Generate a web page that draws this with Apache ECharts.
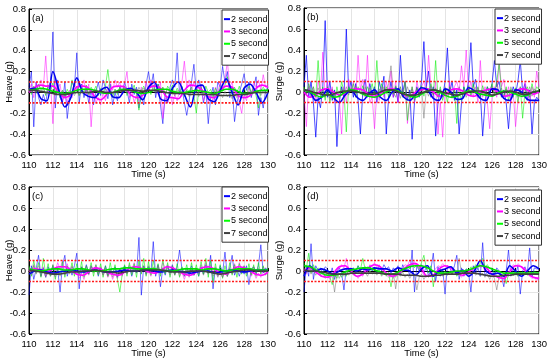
<!DOCTYPE html>
<html><head><meta charset="utf-8">
<script src="https://cdn.jsdelivr.net/npm/echarts@6/dist/echarts.min.js"></script>
<style>html,body{margin:0;padding:0;background:#fff}#c{width:550px;height:361px}</style>
</head><body><div id="c"></div>
<script>
// ---- time grids (s) ----
const xMin = 110, xMax = 130;
const tRaw = []; for (let i = 0; i <= 100; i++) tRaw.push(+(110 + i * 0.2).toFixed(1));
const tSm = []; for (let i = 0; i <= 40; i++) tSm.push(+(110 + i * 0.5).toFixed(1));

const seriesNames = ['2 second', '3 second', '5 second', '7 second'];
const yTicks = [-0.6, -0.4, -0.2, 0, 0.2, 0.4, 0.6, 0.8];
const thresholds = [0.1, -0.1];
const panelLabels = ['(a)', '(b)', '(c)', '(d)'];
const yNames = ['Heave (g)', 'Surge (g)', 'Heave (g)', 'Surge (g)'];

// ===== Panel (a) Heave =====
const aBlueRaw = [
 0.05, 0.2, -0.33, 0.1, -0.05, -0.12, -0.02, -0.1, 0.05, 0.1,
 0.58, -0.15, 0.12, -0.05, -0.1, 0.1, -0.25, -0.05, 0.1, 0.05,
 0.38, -0.1, 0.08, -0.05, 0.04, -0.1, 0.02, -0.12, 0.0, 0.1,
 -0.03, 0.12, 0.04, -0.06, 0.08, -0.12, 0.0, -0.08, 0.06, 0.0,
 0.1, 0.02, -0.1, 0.08, -0.02, 0.05, -0.15, -0.02, -0.12, 0.08,
 0.2, 0.05, 0.18, -0.05, 0.08, -0.12, -0.3, 0.0, -0.1, 0.05,
 0.12, 0.05, 0.38, -0.02, 0.05, -0.1, -0.22, -0.08, 0.1, 0.27,
 0.0, 0.12, 0.05, -0.1, 0.02, -0.3, -0.05, 0.05, -0.12, 0.1,
 0.05, 0.25, 0.1, 0.2, -0.05, 0.05, -0.28, -0.1, 0.0, 0.08,
 0.18, 0.02, 0.1, -0.05, 0.05, 0.15, -0.22, -0.05, -0.15, 0.02,
 0.05];
const aBlueSm = [
 0.03, 0.04, -0.06, -0.08, 0.2, 0.02, -0.14, -0.05, 0.14, 0.0,
 -0.04, -0.05, 0.02, 0.05, -0.04, -0.05, 0.02, 0.04, 0.0, -0.07,
 0.05, 0.1, -0.06, -0.08, 0.04, 0.1, -0.02, -0.14, 0.05, 0.07,
 -0.06, -0.09, 0.02, 0.13, 0.0, -0.12, 0.04, 0.08, 0.0, -0.1,
 0.0];
const aMagRaw = [
 0.02, 0.08, -0.05, 0.1, 0.02, 0.12, 0.04, 0.35, 0.0, 0.1,
 -0.3, 0.12, 0.02, 0.08, -0.08, -0.02, -0.1, 0.02, -0.05, 0.1,
 0.02, 0.1, 0.05, 0.12, -0.02, 0.08, -0.33, 0.0, -0.1, -0.05,
 -0.12, 0.0, -0.08, 0.05, 0.1, 0.02, 0.12, 0.05, 0.1, -0.02,
 0.08, 0.2, -0.05, 0.02, -0.1, -0.02, -0.08, 0.05, -0.02, 0.1,
 0.02, 0.12, 0.05, 0.08, -0.02, 0.1, -0.25, -0.05, -0.1, 0.0,
 -0.12, -0.02, -0.08, 0.02, 0.1, 0.3, 0.05, 0.12, 0.02, 0.1,
 0.05, -0.02, 0.08, -0.08, 0.0, -0.1, -0.02, -0.08, 0.05, 0.0,
 0.1, 0.02, 0.12, 0.3, 0.05, 0.1, -0.05, 0.02, -0.1, -0.2,
 -0.02, -0.08, 0.05, -0.02, 0.1, 0.05, 0.12, 0.02, 0.17, 0.05,
 0.08];
const aMagSm = [
 0.0, 0.05, 0.07, 0.06, 0.06, 0.0, -0.05, -0.02, 0.05, 0.06,
 0.04, -0.04, -0.07, -0.02, 0.05, 0.06, 0.05, -0.02, -0.05, -0.03,
 0.04, 0.06, 0.04, -0.04, -0.05, -0.06, 0.02, 0.07, 0.06, 0.02,
 -0.04, -0.05, 0.02, 0.06, 0.05, -0.03, -0.05, -0.03, 0.04, 0.07,
 0.05];
const aGrnRaw = [
 0.04, -0.02, 0.06, 0.0, 0.08, 0.02, 0.05, -0.03, 0.07, 0.01,
 0.09, 0.0, 0.05, -0.05, 0.02, -0.04, 0.03, -0.02, 0.12, 0.02,
 0.06, -0.03, 0.04, 0.0, 0.07, -0.02, 0.05, 0.01, 0.06, -0.03,
 0.04, 0.0, 0.06, 0.22, 0.02, -0.05, 0.03, -0.02, 0.05, 0.0,
 0.06, -0.03, 0.04, 0.01, 0.07, -0.02, -0.17, 0.02, 0.06, 0.0,
 0.05, -0.02, 0.07, 0.01, 0.08, 0.0, 0.05, -0.03, 0.06, 0.02,
 0.07, -0.01, 0.04, 0.0, 0.06, -0.04, 0.03, 0.01, 0.05, -0.03,
 -0.2, 0.02, 0.05, -0.02, 0.06, 0.0, 0.03, -0.05, 0.04, -0.02,
 0.05, 0.01, 0.07, 0.15, 0.04, -0.03, 0.05, 0.0, 0.06, -0.04,
 0.04, -0.02, 0.06, 0.0, 0.05, -0.03, -0.15, 0.02, 0.05, 0.01,
 0.03];
const aGrnSm = [
 0.02, 0.03, 0.04, 0.03, 0.01, 0.0, -0.01, 0.0, 0.02, 0.03,
 0.03, 0.02, 0.0, -0.01, 0.0, 0.02, 0.03, 0.02, 0.0, -0.01,
 0.0, 0.02, 0.03, 0.03, 0.01, 0.0, 0.0, 0.01, 0.02, 0.01,
 0.0, -0.01, 0.01, 0.03, 0.03, 0.01, -0.01, -0.01, 0.01, 0.02,
 0.02];
const aGryRaw = [
 0.04, 0.0, 0.05, -0.01, 0.03, 0.0, 0.04, -0.02, 0.02, 0.0,
 0.03, -0.03, 0.01, -0.02, 0.02, -0.05, 0.0, -0.04, 0.01, -0.03,
 0.02, -0.03, 0.01, -0.01, 0.03, -0.02, 0.02, 0.0, 0.03, -0.01,
 0.03, -0.01, 0.04, 0.0, 0.02, -0.02, 0.03, -0.01, 0.04, 0.0,
 0.05, -0.01, 0.03, 0.0, 0.04, -0.01, 0.05, 0.0, 0.04, 0.01,
 0.05, 0.0, 0.04, -0.01, 0.03, 0.0, 0.05, -0.02, 0.03, 0.0,
 0.02, -0.03, 0.02, -0.01, 0.01, -0.03, 0.02, -0.04, 0.0, -0.02,
 0.01, -0.04, 0.0, -0.03, 0.01, -0.05, 0.0, -0.03, 0.01, -0.04,
 0.0, -0.05, 0.01, -0.04, -0.01, -0.06, 0.0, -0.05, -0.01, -0.04,
 0.0, -0.04, 0.01, -0.03, 0.02, -0.02, 0.01, -0.03, 0.02, -0.01,
 0.01];
const aGrySm = [
 0.02, 0.02, 0.01, 0.0, -0.01, -0.02, -0.02, -0.01, 0.0, 0.0,
 0.0, 0.01, 0.01, 0.0, 0.0, 0.01, 0.02, 0.02, 0.02, 0.01,
 0.02, 0.02, 0.01, 0.0, -0.01, -0.01, -0.01, -0.02, -0.02, -0.02,
 -0.02, -0.02, -0.03, -0.03, -0.03, -0.02, -0.02, -0.01, 0.0, 0.0,
 0.0];

// ===== Panel (b) Surge =====
const bBlueRaw = [
 0.05, 0.35, -0.05, 0.1, -0.1, -0.43, -0.05, -0.15, 0.05, 0.68,
 -0.05, 0.1, -0.08, 0.02, -0.52, -0.1, 0.05, -0.05, 0.6, 0.0,
 0.1, -0.05, 0.08, -0.08, -0.4, 0.0, 0.12, -0.05, 0.08, -0.02,
 0.05, -0.1, 0.1, 0.0, 0.15, -0.4, -0.05, 0.1, -0.05, 0.05,
 -0.1, 0.35, 0.0, 0.1, -0.08, 0.02, -0.45, -0.1, 0.05, -0.05,
 0.1, 0.48, 0.05, 0.2, -0.05, 0.05, -0.42, -0.1, 0.02, -0.05,
 0.1, 0.42, 0.0, 0.1, -0.08, 0.02, -0.4, -0.1, 0.05, -0.02,
 0.1, 0.47, 0.05, 0.12, -0.05, 0.0, -0.42, -0.1, 0.05, -0.02,
 0.08, 0.3, 0.05, 0.1, -0.05, 0.02, -0.1, -0.35, -0.05, 0.05,
 -0.02, 0.1, 0.3, 0.0, 0.08, -0.08, 0.02, -0.4, -0.1, -0.05,
 -0.08];
const bBlueSm = [
 0.02, 0.0, -0.08, -0.05, 0.02, -0.05, -0.1, -0.03, 0.02, -0.05,
 -0.08, -0.02, 0.02, -0.05, -0.08, 0.0, 0.03, -0.05, -0.08, -0.02,
 0.04, 0.02, -0.06, -0.08, 0.03, 0.0, -0.07, -0.06, 0.04, 0.01,
 -0.06, -0.08, 0.03, 0.02, -0.06, -0.08, 0.02, 0.0, -0.07, -0.08,
 -0.08];
const bMagRaw = [
 0.0, -0.33, 0.08, -0.05, 0.05, -0.1, 0.1, 0.0, 0.38, -0.05,
 0.1, -0.08, 0.05, -0.1, 0.0, -0.05, -0.4, 0.05, -0.1, 0.12,
 0.0, 0.1, -0.05, 0.35, 0.02, 0.12, -0.05, 0.35, -0.1, -0.05,
 -0.35, 0.0, -0.08, 0.05, -0.05, 0.1, 0.0, 0.2, -0.05, 0.1,
 -0.1, 0.05, -0.05, 0.1, -0.3, -0.08, 0.05, -0.1, 0.1, 0.0,
 0.05, 0.1, 0.0, 0.35, 0.05, -0.05, 0.1, -0.4, -0.1, -0.43,
 0.0, -0.05, 0.1, -0.05, 0.05, 0.1, 0.0, 0.25, 0.05, 0.4,
 0.0, 0.1, -0.05, 0.05, -0.1, 0.3, -0.05, 0.05, -0.1, -0.35,
 -0.05, 0.05, -0.05, 0.3, 0.05, 0.12, -0.05, 0.05, -0.1, 0.0,
 -0.33, -0.1, 0.05, -0.05, 0.1, 0.0, -0.1, 0.05, -0.05, 0.2,
 0.05];
const bMagSm = [
 0.0, -0.05, -0.03, 0.02, 0.03, 0.0, -0.03, -0.02, 0.02, 0.03,
 0.02, -0.02, -0.04, -0.01, 0.02, 0.03, 0.01, -0.03, -0.04, 0.0,
 0.02, 0.03, 0.0, -0.04, -0.03, 0.02, 0.03, 0.01, -0.03, -0.04,
 0.0, 0.02, 0.03, 0.0, -0.04, -0.03, 0.01, 0.03, 0.02, -0.02,
 0.0];
const bGrnRaw = [
 0.05, -0.03, 0.08, 0.0, 0.05, -0.05, 0.3, -0.05, 0.05, -0.08,
 0.05, -0.1, 0.02, -0.08, 0.05, -0.05, 0.1, 0.0, -0.38, 0.05,
 0.0, 0.08, -0.05, 0.05, -0.02, 0.06, -0.04, 0.05, 0.0, 0.08,
 -0.03, 0.3, -0.05, 0.08, -0.02, 0.05, -0.05, 0.04, -0.02, 0.06,
 0.0, 0.05, -0.05, 0.1, -0.27, -0.05, 0.05, -0.08, 0.04, -0.02,
 0.06, -0.04, 0.05, 0.0, 0.08, -0.03, 0.3, -0.05, 0.05, -0.08,
 0.02, -0.1, 0.05, -0.05, 0.03, -0.3, 0.0, -0.08, 0.05, -0.02,
 0.06, -0.03, 0.08, 0.0, 0.05, -0.04, 0.06, -0.02, 0.05, 0.0,
 0.08, -0.03, 0.1, 0.27, 0.02, -0.05, 0.05, -0.08, 0.03, -0.05,
 0.04, -0.1, 0.05, -0.25, 0.0, 0.05, -0.05, 0.08, -0.02, 0.05,
 0.02];
const bGrnSm = [
 0.02, 0.0, -0.03, -0.05, -0.02, -0.05, -0.04, 0.0, 0.02, 0.01,
 -0.02, -0.04, -0.05, -0.03, 0.0, 0.02, 0.01, -0.02, -0.04, -0.05,
 -0.02, 0.01, 0.02, 0.0, -0.03, -0.05, -0.04, -0.01, 0.01, 0.0,
 -0.02, -0.03, -0.04, -0.01, 0.01, 0.0, -0.02, -0.04, -0.03, 0.0,
 0.01];
const bGryRaw = [
 0.03, -0.02, 0.05, -0.05, 0.02, -0.04, 0.04, -0.03, 0.02, -0.05,
 0.0, -0.06, 0.03, -0.04, 0.01, -0.05, 0.03, -0.02, 0.05, -0.03,
 0.04, -0.02, 0.06, -0.01, 0.03, -0.04, 0.05, -0.02, 0.04, -0.05,
 0.02, -0.06, 0.03, -0.03, 0.05, -0.02, 0.08, 0.25, 0.0, -0.05,
 0.03, -0.06, 0.02, -0.04, 0.05, -0.02, 0.03, -0.05, 0.04, -0.02,
 0.05, -0.25, 0.02, -0.04, 0.06, -0.02, 0.04, -0.05, 0.03, -0.03,
 0.05, -0.02, 0.04, -0.06, 0.02, -0.03, 0.05, -0.02, 0.03, -0.05,
 0.02, -0.04, 0.05, -0.02, 0.04, -0.06, 0.02, -0.03, 0.04, -0.02,
 0.06, -0.03, 0.1, -0.02, 0.04, -0.05, 0.03, -0.04, 0.05, -0.02,
 0.03, -0.05, 0.02, -0.03, 0.04, -0.02, 0.05, -0.04, 0.03, -0.01,
 0.02];
const bGrySm = [
 0.02, 0.01, -0.01, -0.02, -0.03, -0.02, 0.0, 0.01, 0.01, 0.0,
 -0.01, -0.02, -0.02, 0.0, 0.02, 0.02, 0.0, -0.02, -0.03, -0.03,
 -0.01, 0.01, 0.02, 0.01, -0.01, -0.02, -0.03, -0.02, 0.0, 0.01,
 0.01, -0.01, -0.03, -0.02, 0.0, 0.01, 0.0, -0.02, -0.02, 0.0,
 0.01];

// ===== Panel (c) Heave =====
const cBlueRaw = [
 -0.23, 0.05, -0.08, 0.02, 0.15, -0.05, 0.03, -0.06, 0.04, -0.03,
 0.05, -0.04, 0.02, -0.2, 0.05, 0.15, -0.05, 0.03, -0.04, 0.05,
 0.17, -0.17, 0.04, -0.02, 0.06, -0.03, 0.05, 0.0, 0.04, -0.05,
 0.03, -0.02, 0.05, -0.04, 0.02, -0.03, 0.04, -0.06, 0.02, -0.03,
 0.05, -0.02, 0.04, -0.05, 0.03, -0.02, 0.32, -0.23, 0.05, -0.03,
 0.04, -0.02, 0.28, -0.05, 0.06, -0.15, 0.03, -0.04, 0.05, -0.02,
 0.06, -0.03, 0.04, 0.2, 0.02, -0.05, 0.03, -0.02, 0.05, -0.04,
 0.02, -0.05, 0.04, -0.03, 0.06, -0.02, 0.15, -0.17, 0.03, -0.04,
 0.05, -0.02, 0.18, -0.05, 0.03, 0.15, -0.04, 0.02, -0.05, 0.03,
 -0.03, 0.05, -0.13, 0.02, 0.04, -0.03, 0.05, 0.25, -0.02, 0.03,
 0.0];
const cBlueSm = [
 -0.03, 0.0, 0.01, -0.01, -0.02, -0.01, 0.0, 0.01, 0.0, -0.01,
 0.0, 0.01, 0.0, -0.01, -0.01, 0.0, 0.01, 0.0, 0.0, 0.01,
 0.01, 0.0, -0.01, 0.0, 0.01, 0.0, -0.01, -0.02, -0.01, 0.0,
 0.0, -0.02, -0.01, 0.0, 0.01, 0.0, -0.01, 0.0, 0.01, 0.01,
 0.01];
const cMagRaw = [
 0.03, -0.04, 0.06, -0.02, 0.05, 0.0, 0.04, -0.05, 0.02, -0.04,
 0.06, 0.0, 0.08, 0.02, 0.1, 0.0, 0.07, -0.01, 0.05, -0.03,
 0.0, -0.07, -0.02, -0.08, 0.01, -0.04, 0.05, 0.0, 0.06, -0.02,
 0.04, -0.04, 0.01, -0.06, -0.01, -0.08, -0.02, -0.07, 0.0, -0.05,
 0.02, 0.0, 0.06, 0.01, 0.08, 0.0, 0.06, -0.02, 0.04, -0.04,
 0.01, -0.05, 0.02, -0.03, 0.05, 0.0, 0.08, 0.01, 0.06, -0.01,
 0.05, -0.03, 0.02, -0.05, -0.01, -0.08, -0.02, -0.06, 0.01, -0.04,
 0.02, -0.02, 0.06, 0.0, 0.08, 0.01, 0.06, -0.01, 0.04, -0.05,
 -0.01, -0.06, 0.0, -0.05, 0.03, -0.02, 0.07, 0.0, 0.08, 0.01,
 0.05, -0.03, 0.02, -0.05, -0.01, -0.07, -0.02, -0.06, 0.0, -0.03,
 0.02];
const cMagSm = [
 0.0, 0.02, 0.01, -0.01, 0.02, 0.04, 0.04, 0.01, -0.03, -0.04,
 -0.01, 0.03, 0.02, -0.01, -0.03, -0.04, -0.01, 0.03, 0.04, 0.02,
 -0.01, -0.02, 0.0, 0.04, 0.03, 0.0, -0.03, -0.04, -0.01, 0.03,
 0.04, 0.02, -0.02, -0.03, 0.01, 0.04, 0.03, 0.0, -0.03, -0.04,
 -0.01];
const cGrnRaw = [
 0.05, -0.05, 0.1, -0.02, 0.08, -0.06, 0.12, -0.03, 0.07, -0.05,
 0.06, -0.08, 0.04, -0.03, 0.09, -0.06, 0.05, -0.02, 0.08, -0.05,
 0.07, -0.04, 0.09, -0.06, 0.05, -0.03, 0.08, -0.05, 0.06, -0.04,
 0.07, -0.06, 0.05, -0.05, 0.08, -0.04, 0.06, -0.08, -0.2, -0.03,
 0.06, -0.05, 0.08, -0.04, 0.07, -0.06, 0.1, -0.03, 0.12, -0.05,
 0.09, -0.04, 0.1, -0.02, 0.07, -0.05, 0.11, -0.03, 0.08, -0.06,
 0.05, -0.04, 0.07, -0.06, 0.04, -0.03, 0.06, -0.05, 0.08, -0.04,
 0.06, -0.05, 0.09, -0.03, 0.12, -0.06, 0.1, -0.11, 0.07, -0.04,
 0.06, -0.07, 0.05, -0.05, 0.08, -0.04, 0.06, -0.06, 0.07, -0.03,
 0.05, -0.05, 0.07, -0.04, 0.06, -0.05, 0.08, -0.03, 0.05, -0.04,
 0.03];
const cGrnSm = [
 0.02, 0.01, 0.0, 0.01, 0.02, 0.02, 0.01, 0.01, 0.02, 0.02,
 0.01, 0.0, 0.0, 0.01, 0.02, 0.02, 0.03, 0.03, 0.02, 0.02,
 0.02, 0.02, 0.01, 0.0, 0.0, 0.01, 0.02, 0.02, 0.02, 0.01,
 0.02, 0.02, 0.01, 0.0, 0.01, 0.02, 0.02, 0.02, 0.01, 0.01,
 0.01];
const cGryRaw = [
 0.04, -0.02, 0.05, -0.03, 0.02, -0.05, 0.01, -0.06, 0.0, -0.05,
 -0.01, -0.06, 0.01, -0.05, 0.02, -0.04, 0.03, -0.03, 0.04, -0.02,
 0.03, -0.03, 0.04, -0.02, 0.05, -0.01, 0.04, -0.02, 0.03, -0.03,
 0.02, -0.04, 0.03, -0.05, 0.01, -0.06, 0.0, -0.05, 0.01, -0.04,
 0.02, -0.03, 0.04, -0.02, 0.05, -0.02, 0.04, -0.01, 0.05, -0.02,
 0.05, -0.01, 0.04, -0.02, 0.05, -0.03, 0.03, -0.02, 0.03, -0.04,
 0.02, -0.04, 0.02, -0.03, 0.03, -0.05, 0.01, -0.04, 0.02, -0.03,
 0.03, -0.03, 0.02, -0.04, 0.03, -0.03, 0.02, -0.05, 0.0, -0.06,
 -0.01, -0.06, 0.0, -0.05, 0.02, -0.03, 0.04, -0.02, 0.03, -0.02,
 0.04, -0.02, 0.03, -0.03, 0.04, -0.01, 0.03, -0.02, 0.04, -0.01,
 0.02];
const cGrySm = [
 0.01, 0.0, -0.01, -0.02, -0.03, -0.03, -0.02, -0.01, -0.01, 0.0,
 0.0, 0.01, 0.0, -0.01, -0.01, -0.02, -0.01, 0.0, 0.0, 0.01,
 0.01, 0.01, 0.01, 0.0, -0.01, -0.01, -0.01, 0.0, 0.0, 0.0,
 -0.01, -0.02, -0.03, -0.02, -0.01, 0.0, 0.01, 0.01, 0.0, 0.0,
 0.0];

// ===== Panel (d) Surge =====
const dBlueRaw = [
 -0.2, 0.05, -0.05, 0.26, -0.08, 0.05, 0.0, 0.03, -0.02, 0.04,
 0.02, -0.05, 0.03, -0.08, 0.0, 0.03, -0.02, -0.18, 0.03, 0.02,
 0.0, 0.03, -0.02, 0.05, 0.0, -0.02, 0.04, 0.02, 0.05, 0.0,
 0.03, -0.02, 0.05, 0.0, 0.06, 0.02, 0.04, -0.02, 0.03, 0.0,
 0.05, -0.03, 0.06, 0.0, 0.04, -0.05, 0.2, -0.2, 0.05, 0.0,
 0.06, -0.02, 0.04, -0.05, 0.02, 0.17, -0.1, 0.04, -0.05, 0.02,
 -0.22, 0.05, 0.03, -0.02, 0.05, 0.15, -0.08, 0.03, -0.05, 0.02,
 0.0, -0.2, 0.05, -0.02, 0.03, -0.05, 0.27, -0.05, 0.0, -0.03,
 0.02, -0.05, 0.03, 0.0, -0.05, -0.15, 0.0, 0.2, -0.05, 0.02,
 -0.03, 0.05, -0.22, 0.0, 0.04, -0.02, 0.22, -0.05, 0.03, 0.02,
 0.02];
const dBlueSm = [
 -0.05, 0.05, 0.0, 0.02, 0.0, -0.03, 0.0, 0.02, 0.02, 0.0,
 0.02, 0.01, 0.03, 0.02, 0.02, 0.0, 0.03, 0.01, 0.0, -0.04,
 0.02, 0.05, -0.05, 0.0, 0.02, 0.04, -0.02, 0.01, -0.05, 0.0,
 0.1, 0.0, -0.03, -0.02, -0.05, 0.05, 0.0, -0.05, 0.0, 0.05,
 0.02];
const dMagRaw = [
 0.02, -0.03, 0.05, 0.0, 0.04, -0.02, 0.0, -0.05, -0.03, -0.07,
 -0.05, -0.08, -0.04, -0.06, 0.0, 0.02, 0.06, 0.03, 0.12, 0.02,
 0.03, -0.03, -0.04, -0.07, -0.03, -0.05, 0.02, -0.01, 0.06, 0.04,
 0.08, 0.03, 0.06, 0.01, -0.02, -0.04, -0.06, -0.03, -0.07, -0.02,
 -0.04, 0.0, 0.03, 0.06, 0.05, 0.1, 0.06, 0.09, 0.04, 0.02,
 0.0, -0.04, -0.06, -0.03, -0.05, 0.0, 0.02, 0.05, 0.04, 0.07,
 0.05, 0.02, 0.04, -0.01, 0.0, -0.04, -0.02, -0.06, -0.03, -0.01,
 -0.03, 0.02, 0.0, 0.04, 0.06, 0.03, 0.05, 0.0, 0.04, -0.02,
 -0.03, -0.06, -0.04, -0.08, -0.06, -0.09, -0.04, 0.0, 0.02, 0.06,
 0.04, 0.07, 0.05, 0.02, 0.03, -0.03, -0.05, -0.07, -0.06, -0.09,
 -0.07];
const dMagSm = [
 0.0, 0.03, -0.01, -0.05, -0.06, -0.02, 0.04, 0.05, 0.0, -0.05,
 -0.03, 0.03, 0.06, 0.04, -0.02, -0.05, -0.03, 0.02, 0.06, 0.07,
 0.02, -0.05, -0.04, 0.02, 0.05, 0.03, -0.02, -0.04, -0.01, 0.03,
 0.05, 0.03, -0.03, -0.06, -0.07, -0.01, 0.05, 0.04, -0.02, -0.06,
 -0.07];
const dGrnRaw = [
 0.08, 0.02, 0.17, -0.02, 0.06, 0.0, 0.03, -0.04, 0.0, -0.06,
 -0.02, -0.06, -0.13, -0.03, -0.07, -0.02, -0.06, 0.0, -0.05, 0.02,
 -0.02, 0.03, 0.0, 0.05, 0.01, 0.12, 0.02, 0.04, -0.01, 0.02,
 0.03, -0.02, 0.01, -0.04, 0.0, -0.05, -0.02, -0.15, -0.03, -0.06,
 -0.01, -0.04, 0.02, 0.0, 0.05, 0.02, 0.07, 0.03, 0.06, 0.02,
 0.08, 0.15, 0.03, -0.02, 0.05, -0.15, 0.0, -0.03, 0.02, -0.02,
 0.0, -0.04, -0.01, -0.03, 0.0, -0.05, -0.02, 0.01, -0.03, 0.02,
 0.0, 0.04, 0.02, 0.06, 0.03, 0.08, 0.12, 0.04, 0.06, 0.02,
 0.03, -0.02, 0.01, -0.03, -0.05, -0.02, -0.12, -0.03, -0.01, -0.04,
 -0.02, -0.05, -0.01, -0.03, 0.0, -0.04, -0.02, -0.03, 0.0, -0.02,
 -0.02];
const dGrnSm = [
 0.05, 0.04, 0.01, -0.02, -0.04, -0.04, -0.03, -0.01, 0.01, 0.02,
 0.03, 0.03, 0.01, -0.01, -0.03, -0.03, -0.01, 0.02, 0.04, 0.05,
 0.05, 0.03, 0.0, -0.02, -0.02, -0.01, 0.0, 0.0, 0.01, 0.03,
 0.05, 0.04, 0.02, 0.0, -0.02, -0.02, -0.02, -0.02, -0.02, -0.02,
 -0.02];
const dGryRaw = [
 0.03, -0.02, 0.02, -0.03, 0.01, -0.04, 0.0, -0.03, -0.01, -0.05,
 -0.02, -0.06, -0.04, -0.2, -0.03, -0.07, -0.02, -0.05, 0.0, -0.04,
 -0.01, -0.04, 0.0, -0.03, 0.01, -0.04, -0.01, -0.05, 0.0, -0.03,
 -0.01, -0.04, 0.0, -0.05, -0.02, -0.04, -0.01, -0.06, -0.02, -0.17,
 -0.02, -0.05, -0.01, -0.06, -0.03, -0.07, -0.03, -0.05, -0.18, -0.06,
 -0.03, -0.08, -0.04, -0.06, -0.02, -0.05, -0.03, -0.04, -0.01, -0.05,
 -0.02, -0.04, 0.0, -0.03, 0.02, -0.03, 0.12, -0.02, 0.0, -0.04,
 -0.01, -0.03, 0.0, -0.04, -0.02, -0.05, -0.02, -0.06, -0.03, -0.08,
 -0.04, -0.07, -0.18, -0.05, -0.03, -0.06, -0.02, -0.05, -0.03, -0.04,
 -0.02, -0.05, -0.01, -0.04, -0.02, -0.03, 0.0, -0.04, -0.02, -0.03,
 -0.02];
const dGrySm = [
 0.01, 0.0, 0.0, -0.01, -0.02, -0.03, -0.03, -0.03, -0.02, -0.02,
 -0.02, -0.02, -0.02, -0.02, -0.03, -0.03, -0.03, -0.04, -0.04, -0.04,
 -0.05, -0.05, -0.04, -0.04, -0.03, -0.03, -0.03, -0.02, -0.02, -0.02,
 -0.03, -0.04, -0.05, -0.05, -0.04, -0.04, -0.03, -0.03, -0.03, -0.03,
 -0.03];

// ---- assembly ----
const panels = [
  { raw: [aBlueRaw, aMagRaw, aGrnRaw, aGryRaw], sm: [aBlueSm, aMagSm, aGrnSm, aGrySm] },
  { raw: [bBlueRaw, bMagRaw, bGrnRaw, bGryRaw], sm: [bBlueSm, bMagSm, bGrnSm, bGrySm] },
  { raw: [cBlueRaw, cMagRaw, cGrnRaw, cGryRaw], sm: [cBlueSm, cMagSm, cGrnSm, cGrySm] },
  { raw: [dBlueRaw, dMagRaw, dGrnRaw, dGryRaw], sm: [dBlueSm, dMagSm, dGrnSm, dGrySm] }
];
const rawColors = ['#0000ff', '#ff00ff', '#00ee00', '#707070'];
const smColors  = ['#0000ee', '#ff00ff', '#00e000', '#404040'];
const legColors = ['#0000ff', '#ff00ff', '#00ff00', '#404040'];
const rawOpacity = [0.55, 0.5, 0.55, 0.5];

const FONT = 'Arial, "Liberation Sans", sans-serif';
const FS = 9.5;
const grids = [
  { left: 29, top: 9, width: 239, height: 146 },
  { left: 304, top: 8, width: 237, height: 147 },
  { left: 29, top: 187, width: 239, height: 147 },
  { left: 304, top: 187, width: 237, height: 147 }
];
const legendPos = [ {left: 222, top: 10}, {left: 495, top: 9}, {left: 222, top: 187}, {left: 495, top: 190} ];
const yNameGap = [15, 20, 15, 20];

const xAxes = [], yAxes = [], series = [], legends = [], graphics = [];
grids.forEach((g, p) => {
  xAxes.push({
    type: 'value', gridIndex: p, min: xMin, max: xMax, interval: 2,
    name: 'Time (s)', nameLocation: 'middle', nameGap: 14, nameMoveOverlap: false,
    nameTextStyle: { fontSize: FS, color: '#000', fontFamily: FONT },
    axisLine: { lineStyle: { color: '#000' } },
    axisTick: { inside: true, length: 3, lineStyle: { color: '#000' } },
    axisLabel: { fontSize: FS, color: '#000', margin: 5, fontFamily: FONT },
    splitLine: { show: true, lineStyle: { color: '#e4e4e4' } }
  });
  yAxes.push({
    type: 'value', gridIndex: p, min: yTicks[0], max: yTicks[yTicks.length - 1], interval: 0.2,
    name: yNames[p], nameLocation: 'middle', nameGap: yNameGap[p], nameMoveOverlap: false,
    nameTextStyle: { fontSize: FS, color: '#000', fontFamily: FONT },
    axisLine: { lineStyle: { color: '#000' } },
    axisTick: { inside: true, length: 3, lineStyle: { color: '#000' } },
    axisLabel: { fontSize: FS, color: '#000', margin: 3, fontFamily: FONT,
      formatter: v => { const r = Math.round(v * 10) / 10; return r === 0 ? '0' : String(r); } },
    splitLine: { show: true, lineStyle: { color: '#e4e4e4' } }
  });
  const pan = panels[p];
  pan.raw.forEach((vals, k) => {
    series.push({
      type: 'line', name: seriesNames[k], xAxisIndex: p, yAxisIndex: p,
      data: vals.map((v, i) => [tRaw[i], v]),
      showSymbol: false, symbol: 'none', silent: true,
      itemStyle: { color: legColors[k] },
      lineStyle: { color: rawColors[k], width: 1, opacity: (p === 1 && k === 0) ? 0.7 : rawOpacity[k] },
      z: 2
    });
  });
  [1, 0, 2, 3].forEach(k => {
    series.push({
      type: 'line', name: seriesNames[k], xAxisIndex: p, yAxisIndex: p,
      data: pan.sm[k].map((v, i) => [tSm[i], v]),
      showSymbol: false, symbol: 'none', silent: true, smooth: 0.3,
      itemStyle: { color: legColors[k] },
      lineStyle: { color: smColors[k], width: 1.6, opacity: 1 },
      z: 3
    });
  });
  thresholds.forEach(v => {
    series.push({
      type: 'line', name: 'limit', xAxisIndex: p, yAxisIndex: p, silent: true, z: 5,
      data: [[xMin, v], [xMax, v]], showSymbol: false, symbol: 'none',
      lineStyle: { color: '#ff1a1a', type: [2, 1.5], width: 1.6 }
    });
  });
  legends.push({
    orient: 'vertical', left: legendPos[p].left, top: legendPos[p].top,
    icon: 'rect', itemWidth: 6, itemHeight: 2, itemGap: 0,
    selectedMode: false, z: 10,
    backgroundColor: '#fff', borderColor: '#333', borderWidth: 1, padding: [3, 1, 3, 2],
    textStyle: { fontSize: 9, lineHeight: 12.3, color: '#000', fontFamily: FONT, padding: [0, 0, 0, -4] },
    data: seriesNames.map((n, k) => ({ name: n, itemStyle: { color: legColors[k], opacity: 1 } }))
  });
  graphics.push({
    type: 'text', left: g.left + 3, top: g.top + 4, z: 100,
    style: { text: panelLabels[p], fontSize: FS, fill: '#000', fontFamily: FONT }
  });
});

const chart = echarts.init(document.getElementById('c'), null, { renderer: 'canvas' });
chart.setOption({
  animation: false,
  backgroundColor: '#fff',
  grid: grids.map(g => Object.assign({ show: true, borderColor: '#000', borderWidth: 1, backgroundColor: '#fff' }, g)),
  xAxis: xAxes, yAxis: yAxes, legend: legends, series: series, graphic: graphics
});
</script></body></html>
